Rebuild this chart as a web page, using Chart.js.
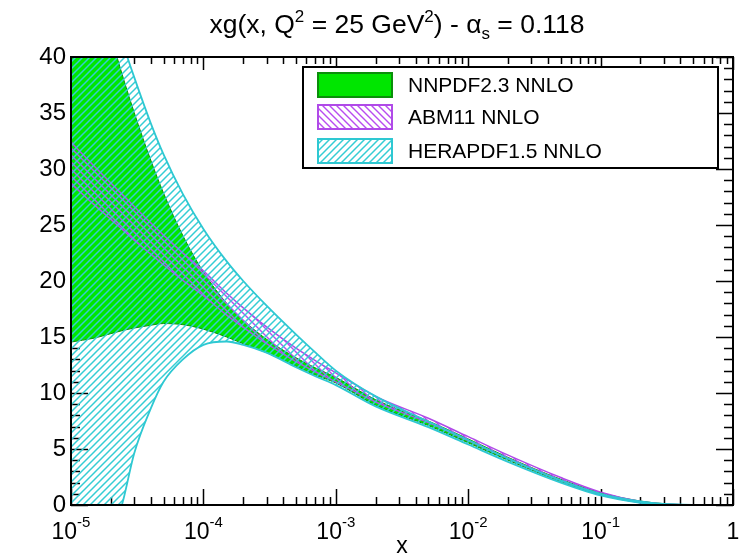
<!DOCTYPE html>
<html>
<head>
<meta charset="utf-8">
<script src="https://cdn.jsdelivr.net/npm/chart.js@4/dist/chart.umd.min.js"></script>
<style>
  html, body { margin: 0; padding: 0; background: #fff; }
  #wrap { width: 749px; height: 556px; }
</style>
</head>
<body>
<div id="wrap"><canvas id="c" width="749" height="556"></canvas></div>
<script>
// x grid shared by all bands
const xs = [1e-5, 1.5e-5, 2e-5, 2.5e-5, 3e-5, 4e-5, 5e-5, 7e-5, 1e-4, 1.5e-4, 2e-4, 3e-4, 5e-4, 7e-4,
  1e-3, 2e-3, 5e-3, 1e-2, 2e-2, 5e-2, 0.1, 0.2, 0.3, 0.5, 0.7, 1];

const nnpdfUp = [55.4, 47.3, 41.9, 38.0, 35.05, 30.8, 27.85, 24.05, 20.8, 18.0, 16.5, 14.8, 13.15, 12.25,
  11.4, 9.4, 7.5, 5.9, 4.25, 2.3, 1.1, 0.35, 0.12, 0.02, 0, 0];
const nnpdfLo = [14.55, 14.9, 15.3, 15.6, 15.8, 16.05, 16.2, 16.1, 15.7, 15.0, 14.4, 13.6, 12.4, 11.6,
  10.9, 8.9, 7.1, 5.55, 4.0, 2.1, 0.9, 0.22, 0.05, 0, 0, 0];

const abmUp = [32.4, 30.25, 28.75, 27.6, 26.65, 25.2, 24.1, 22.5, 20.9, 18.9, 17.6, 15.9, 14.0, 12.9,
  11.8, 9.7, 7.75, 6.1, 4.45, 2.45, 1.15, 0.32, 0.1, 0.01, 0, 0];
const abmLo = [28.7, 26.8, 25.5, 24.5, 23.65, 22.4, 21.45, 20.05, 18.7, 16.95, 15.85, 14.4, 12.8, 11.9,
  11.0, 9.2, 7.35, 5.75, 4.15, 2.2, 0.95, 0.2, 0.03, 0, 0, 0];

const heraUp = [57.9, 50.0, 44.8, 41.0, 38.2, 34.1, 31.3, 27.75, 24.65, 21.75, 20.0, 17.8, 15.24, 13.63,
  12.0, 9.7, 7.45, 5.8, 4.15, 2.2, 1.0, 0.32, 0.1, 0.01, 0, 0];
const heraLo = [-20, -10, -3.5, 0.6, 4.6, 8.6, 11.0, 13.0, 14.3, 14.6, 14.3, 13.6, 12.3, 11.5,
  10.7, 8.8, 6.95, 5.4, 3.85, 2.0, 0.85, 0.2, 0.04, 0, 0, 0];

const legendLabels = ['NNPDF2.3 NNLO', 'ABM11 NNLO', 'HERAPDF1.5 NNLO'];
const xDecades = [1e-5, 1e-4, 1e-3, 1e-2, 1e-1, 1];
const xTickLabels = [['10', '-5'], ['10', '-4'], ['10', '-3'], ['10', '-2'], ['10', '-1'], ['1', '']];
const titleParts = [['xg(x, Q', 0], ['2', 1], [' = 25 GeV', 0], ['2', 1], [') - \u03b1', 0], ['s', -1], [' = 0.118', 0]];

const FONT = "'Liberation Sans', Arial, Helvetica, sans-serif";

const canvas = document.getElementById('c');
const ctx = canvas.getContext('2d');

const hatch = (color, size, lw, dir) => {
  const c = document.createElement('canvas');
  c.width = size;
  c.height = size;
  const g = c.getContext('2d');
  g.strokeStyle = color;
  g.lineWidth = lw;
  g.beginPath();
  if (dir > 0) {
    g.moveTo(0, size); g.lineTo(size, 0);
    g.moveTo(-1, 1); g.lineTo(1, -1);
    g.moveTo(size - 1, size + 1); g.lineTo(size + 1, size - 1);
  } else {
    g.moveTo(0, 0); g.lineTo(size, size);
    g.moveTo(-1, size - 1); g.lineTo(1, size + 1);
    g.moveTo(size - 1, -1); g.lineTo(size + 1, 1);
  }
  g.stroke();
  return ctx.createPattern(c, 'repeat');
};

const toPts = (arr) => xs.map((x, i) => ({ x: x, y: arr[i] }));

const band = (label, up, lo, fill, edge, edgeW, order) => [
  {
    label: label,
    data: toPts(up),
    fill: '+1',
    backgroundColor: fill,
    borderColor: edge,
    borderWidth: edgeW,
    pointRadius: 0,
    cubicInterpolationMode: 'monotone',
    clip: 0,
    order: order + 1,
  },
  {
    label: label + ' low',
    data: toPts(lo),
    fill: false,
    backgroundColor: fill,
    borderColor: edge,
    borderWidth: edgeW,
    pointRadius: 0,
    cubicInterpolationMode: 'monotone',
    clip: 0,
    order: order,
  },
];

const greenFill = '#00e600';
const abmPattern = hatch('#b84cf0', 7, 1.4, -1);
const heraPattern = hatch('#35cdd4', 7, 1.5, 1);

const datasets = [
  ...band(legendLabels[0], nnpdfUp, nnpdfLo, greenFill, '#0b8f0b', 1, 5),
  ...band(legendLabels[1], abmUp, abmLo, abmPattern, '#b04ae8', 1.5, 3),
  ...band(legendLabels[2], heraUp, heraLo, heraPattern, '#2ec8d2', 1.8, 1),
];

const rootFrame = {
  id: 'rootFrame',
  beforeDatasetsDraw(chart) {
    const c = chart.ctx;
    const { left, right, top, bottom } = chart.chartArea;
    const xS = chart.scales.x;
    const yS = chart.scales.y;
    c.save();
    c.strokeStyle = '#000';
    c.lineWidth = 1.5;
    c.beginPath();
    xDecades.forEach((d, i) => {
      const px = Math.round(xS.getPixelForValue(d)) + 0.5;
      c.moveTo(px, bottom); c.lineTo(px, bottom - 16);
      c.moveTo(px, top); c.lineTo(px, top + 13);
      if (i < xDecades.length - 1) {
        for (let m = 2; m <= 9; m++) {
          const pm = Math.round(xS.getPixelForValue(m * d)) + 0.5;
          c.moveTo(pm, bottom); c.lineTo(pm, bottom - 8);
          c.moveTo(pm, top); c.lineTo(pm, top + 7);
        }
      }
    });
    for (let v = 0; v <= 40; v++) {
      const py = Math.round(yS.getPixelForValue(v)) + 0.5;
      const len = v % 5 === 0 ? 17 : 9;
      c.moveTo(left, py); c.lineTo(left + len, py);
      c.moveTo(right, py); c.lineTo(right - len, py);
    }
    c.stroke();
    c.restore();
  },
  afterDatasetsDraw(chart) {
    const c = chart.ctx;
    const { left, right, top, bottom } = chart.chartArea;
    const xS = chart.scales.x;
    c.save();

    // legend
    const lx = 303, ly = 67, lw = 415, lh = 101;
    c.fillStyle = '#fff';
    c.fillRect(lx, ly, lw, lh);
    c.strokeStyle = '#000';
    c.lineWidth = 2;
    c.strokeRect(lx, ly, lw, lh);
    const rows = [85, 117, 151];
    legendLabels.forEach((lab, i) => {
      const ds = chart.data.datasets[i * 2];
      const sy = rows[i] - 12;
      c.fillStyle = ds.backgroundColor;
      c.fillRect(318, sy, 74, 24);
      c.strokeStyle = ds.borderColor;
      c.lineWidth = 2;
      c.strokeRect(318, sy, 74, 24);
      c.fillStyle = '#000';
      c.font = '21px ' + FONT;
      c.textAlign = 'left';
      c.textBaseline = 'middle';
      c.fillText(lab, 408, rows[i] + 1);
    });

    // frame
    c.strokeStyle = '#000';
    c.lineWidth = 2;
    c.strokeRect(left, top, right - left, bottom - top);

    // x tick labels with exponents
    c.fillStyle = '#000';
    c.textBaseline = 'alphabetic';
    c.textAlign = 'left';
    xDecades.forEach((d, i) => {
      const [base, ex] = xTickLabels[i];
      c.font = '23px ' + FONT;
      const wb = c.measureText(base).width;
      c.font = '15px ' + FONT;
      const we = ex ? c.measureText(ex).width : 0;
      const px = xS.getPixelForValue(d);
      const x0 = px - (wb + we) / 2;
      c.font = '23px ' + FONT;
      c.fillText(base, x0, 539);
      if (ex) {
        c.font = '15px ' + FONT;
        c.fillText(ex, x0 + wb, 527);
      }
    });

    // title
    const big = '26.5px ' + FONT, small = '17px ' + FONT;
    let tw = 0;
    titleParts.forEach(([t, s]) => {
      c.font = s === 0 ? big : small;
      tw += c.measureText(t).width;
    });
    let tx = 397 - tw / 2;
    titleParts.forEach(([t, s]) => {
      c.font = s === 0 ? big : small;
      const dy = s > 0 ? -11 : (s < 0 ? 6 : 0);
      c.fillText(t, tx, 33 + dy);
      tx += c.measureText(t).width;
    });
    c.restore();
  },
};

new Chart(canvas, {
  type: 'line',
  data: { datasets: datasets },
  options: {
    responsive: false,
    animation: false,
    devicePixelRatio: 1,
    layout: { padding: { top: 57, right: 16, left: 0, bottom: 0 } },
    plugins: {
      legend: { display: false },
      title: { display: false },
      tooltip: { enabled: false },
      filler: { propagate: false },
    },
    scales: {
      x: {
        type: 'logarithmic',
        min: 1e-5,
        max: 1,
        grid: { display: false },
        border: { display: false },
        ticks: { display: false },
        title: {
          display: true,
          text: 'x',
          color: '#000',
          font: { family: FONT, size: 23 },
          padding: { top: 0, bottom: -4 },
        },
        afterFit: (s) => { s.height = 51; },
      },
      y: {
        min: 0,
        max: 40,
        grid: { display: false, drawTicks: false },
        border: { display: false },
        ticks: {
          stepSize: 5,
          color: '#000',
          padding: 5,
          font: { family: FONT, size: 24 },
        },
        afterFit: (s) => { s.width = 71; },
      },
    },
  },
  plugins: [rootFrame],
});
</script>
</body>
</html>
